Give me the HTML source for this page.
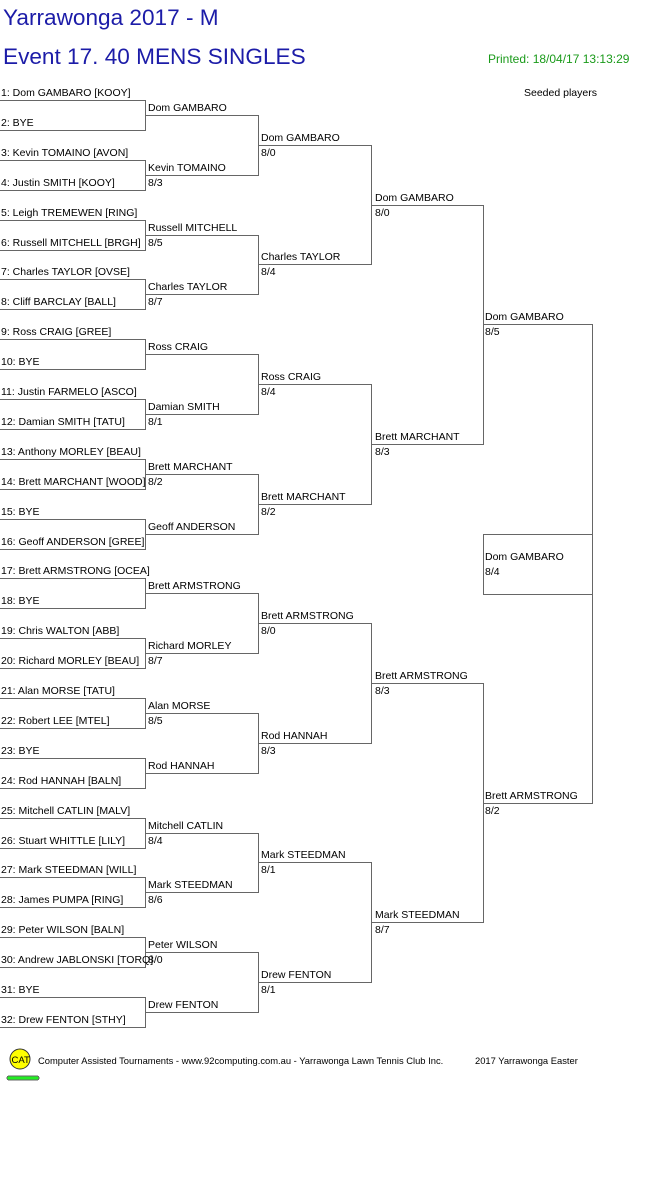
<!DOCTYPE html>
<html><head><meta charset="utf-8"><style>
html,body{margin:0;padding:0;background:#fff;width:661px;height:1196px;overflow:hidden}
svg{display:block}
text{font-family:"Liberation Sans",Arial,sans-serif;font-size:10.5px;fill:#000}
.h{font-size:22.6px;fill:#1c1ca8}
.g{font-size:12px;fill:#1a9a1a}
.f{font-size:9.4px;fill:#000}
line,rect{stroke:#666;stroke-width:1;shape-rendering:crispEdges}
</style></head><body>
<svg width="661" height="1196" xmlns="http://www.w3.org/2000/svg">
<text class="h" x="3" y="25">Yarrawonga 2017 - M</text>
<text class="h" x="3" y="64">Event 17. 40 MENS SINGLES</text>
<text class="g" x="488" y="63">Printed: 18/04/17 13:13:29</text>
<text x="524" y="96">Seeded players</text>
<g>
<line x1="0" x2="145" y1="100.5" y2="100.5"/><line x1="0" x2="145" y1="130.5" y2="130.5"/>
<line x1="0" x2="145" y1="160.5" y2="160.5"/><line x1="0" x2="145" y1="190.5" y2="190.5"/>
<line x1="0" x2="145" y1="220.5" y2="220.5"/><line x1="0" x2="145" y1="250.5" y2="250.5"/>
<line x1="0" x2="145" y1="279.5" y2="279.5"/><line x1="0" x2="145" y1="309.5" y2="309.5"/>
<line x1="0" x2="145" y1="339.5" y2="339.5"/><line x1="0" x2="145" y1="369.5" y2="369.5"/>
<line x1="0" x2="145" y1="399.5" y2="399.5"/><line x1="0" x2="145" y1="429.5" y2="429.5"/>
<line x1="0" x2="145" y1="459.5" y2="459.5"/><line x1="0" x2="145" y1="489.5" y2="489.5"/>
<line x1="0" x2="145" y1="519.5" y2="519.5"/><line x1="0" x2="145" y1="549.5" y2="549.5"/>
<line x1="0" x2="145" y1="578.5" y2="578.5"/><line x1="0" x2="145" y1="608.5" y2="608.5"/>
<line x1="0" x2="145" y1="638.5" y2="638.5"/><line x1="0" x2="145" y1="668.5" y2="668.5"/>
<line x1="0" x2="145" y1="698.5" y2="698.5"/><line x1="0" x2="145" y1="728.5" y2="728.5"/>
<line x1="0" x2="145" y1="758.5" y2="758.5"/><line x1="0" x2="145" y1="788.5" y2="788.5"/>
<line x1="0" x2="145" y1="818.5" y2="818.5"/><line x1="0" x2="145" y1="848.5" y2="848.5"/>
<line x1="0" x2="145" y1="877.5" y2="877.5"/><line x1="0" x2="145" y1="907.5" y2="907.5"/>
<line x1="0" x2="145" y1="937.5" y2="937.5"/><line x1="0" x2="145" y1="967.5" y2="967.5"/>
<line x1="0" x2="145" y1="997.5" y2="997.5"/><line x1="0" x2="145" y1="1027.5" y2="1027.5"/>
<line x1="145.5" x2="145.5" y1="100" y2="131"/><line x1="145.5" x2="145.5" y1="160" y2="191"/>
<line x1="145.5" x2="145.5" y1="220" y2="251"/><line x1="145.5" x2="145.5" y1="279" y2="310"/>
<line x1="145.5" x2="145.5" y1="339" y2="370"/><line x1="145.5" x2="145.5" y1="399" y2="430"/>
<line x1="145.5" x2="145.5" y1="459" y2="490"/><line x1="145.5" x2="145.5" y1="519" y2="550"/>
<line x1="145.5" x2="145.5" y1="578" y2="609"/><line x1="145.5" x2="145.5" y1="638" y2="669"/>
<line x1="145.5" x2="145.5" y1="698" y2="729"/><line x1="145.5" x2="145.5" y1="758" y2="789"/>
<line x1="145.5" x2="145.5" y1="818" y2="849"/><line x1="145.5" x2="145.5" y1="877" y2="908"/>
<line x1="145.5" x2="145.5" y1="937" y2="968"/><line x1="145.5" x2="145.5" y1="997" y2="1028"/>
<line x1="145" x2="258" y1="115.5" y2="115.5"/><line x1="145" x2="258" y1="175.5" y2="175.5"/>
<line x1="145" x2="258" y1="235.5" y2="235.5"/><line x1="145" x2="258" y1="294.5" y2="294.5"/>
<line x1="145" x2="258" y1="354.5" y2="354.5"/><line x1="145" x2="258" y1="414.5" y2="414.5"/>
<line x1="145" x2="258" y1="474.5" y2="474.5"/><line x1="145" x2="258" y1="534.5" y2="534.5"/>
<line x1="145" x2="258" y1="593.5" y2="593.5"/><line x1="145" x2="258" y1="653.5" y2="653.5"/>
<line x1="145" x2="258" y1="713.5" y2="713.5"/><line x1="145" x2="258" y1="773.5" y2="773.5"/>
<line x1="145" x2="258" y1="833.5" y2="833.5"/><line x1="145" x2="258" y1="892.5" y2="892.5"/>
<line x1="145" x2="258" y1="952.5" y2="952.5"/><line x1="145" x2="258" y1="1012.5" y2="1012.5"/>
<line x1="258.5" x2="258.5" y1="115" y2="176"/><line x1="258.5" x2="258.5" y1="235" y2="295"/>
<line x1="258.5" x2="258.5" y1="354" y2="415"/><line x1="258.5" x2="258.5" y1="474" y2="535"/>
<line x1="258.5" x2="258.5" y1="593" y2="654"/><line x1="258.5" x2="258.5" y1="713" y2="774"/>
<line x1="258.5" x2="258.5" y1="833" y2="893"/><line x1="258.5" x2="258.5" y1="952" y2="1013"/>
<line x1="258" x2="371" y1="145.5" y2="145.5"/><line x1="258" x2="371" y1="264.5" y2="264.5"/>
<line x1="258" x2="371" y1="384.5" y2="384.5"/><line x1="258" x2="371" y1="504.5" y2="504.5"/>
<line x1="258" x2="371" y1="623.5" y2="623.5"/><line x1="258" x2="371" y1="743.5" y2="743.5"/>
<line x1="258" x2="371" y1="862.5" y2="862.5"/><line x1="258" x2="371" y1="982.5" y2="982.5"/>
<line x1="371.5" x2="371.5" y1="145" y2="265"/><line x1="371.5" x2="371.5" y1="384" y2="505"/>
<line x1="371.5" x2="371.5" y1="623" y2="744"/><line x1="371.5" x2="371.5" y1="862" y2="983"/>
<line x1="371" x2="483" y1="205.5" y2="205.5"/><line x1="371" x2="483" y1="444.5" y2="444.5"/>
<line x1="371" x2="483" y1="683.5" y2="683.5"/><line x1="371" x2="483" y1="922.5" y2="922.5"/>
<line x1="483.5" x2="483.5" y1="205" y2="445"/><line x1="483.5" x2="483.5" y1="683" y2="923"/>
<line x1="483" x2="592" y1="324.5" y2="324.5"/><line x1="483" x2="592" y1="803.5" y2="803.5"/>
<line x1="592.5" x2="592.5" y1="324" y2="804"/>
<line x1="483" x2="592" y1="534.5" y2="534.5"/><line x1="483" x2="592" y1="594.5" y2="594.5"/>
<line x1="483.5" x2="483.5" y1="534" y2="595"/>
</g>
<g>
<text x="1" y="96">1: Dom GAMBARO [KOOY]</text>
<text x="1" y="126">2: BYE</text>
<text x="1" y="156">3: Kevin TOMAINO [AVON]</text>
<text x="1" y="186">4: Justin SMITH [KOOY]</text>
<text x="1" y="216">5: Leigh TREMEWEN [RING]</text>
<text x="1" y="246">6: Russell MITCHELL [BRGH]</text>
<text x="1" y="275">7: Charles TAYLOR [OVSE]</text>
<text x="1" y="305">8: Cliff BARCLAY [BALL]</text>
<text x="1" y="335">9: Ross CRAIG [GREE]</text>
<text x="1" y="365">10: BYE</text>
<text x="1" y="395">11: Justin FARMELO [ASCO]</text>
<text x="1" y="425">12: Damian SMITH [TATU]</text>
<text x="1" y="455">13: Anthony MORLEY [BEAU]</text>
<text x="1" y="485">14: Brett MARCHANT [WOOD]</text>
<text x="1" y="515">15: BYE</text>
<text x="1" y="545">16: Geoff ANDERSON [GREE]</text>
<text x="1" y="574">17: Brett ARMSTRONG [OCEA]</text>
<text x="1" y="604">18: BYE</text>
<text x="1" y="634">19: Chris WALTON [ABB]</text>
<text x="1" y="664">20: Richard MORLEY [BEAU]</text>
<text x="1" y="694">21: Alan MORSE [TATU]</text>
<text x="1" y="724">22: Robert LEE [MTEL]</text>
<text x="1" y="754">23: BYE</text>
<text x="1" y="784">24: Rod HANNAH [BALN]</text>
<text x="1" y="814">25: Mitchell CATLIN [MALV]</text>
<text x="1" y="844">26: Stuart WHITTLE [LILY]</text>
<text x="1" y="873">27: Mark STEEDMAN [WILL]</text>
<text x="1" y="903">28: James PUMPA [RING]</text>
<text x="1" y="933">29: Peter WILSON [BALN]</text>
<text x="1" y="963">30: Andrew JABLONSKI [TORQ]</text>
<text x="1" y="993">31: BYE</text>
<text x="1" y="1023">32: Drew FENTON [STHY]</text>

<text x="148" y="111">Dom GAMBARO</text>
<text x="148" y="171">Kevin TOMAINO</text><text x="148" y="186">8/3</text>
<text x="148" y="231">Russell MITCHELL</text><text x="148" y="246">8/5</text>
<text x="148" y="290">Charles TAYLOR</text><text x="148" y="305">8/7</text>
<text x="148" y="350">Ross CRAIG</text>
<text x="148" y="410">Damian SMITH</text><text x="148" y="425">8/1</text>
<text x="148" y="470">Brett MARCHANT</text><text x="148" y="485">8/2</text>
<text x="148" y="530">Geoff ANDERSON</text>
<text x="148" y="589">Brett ARMSTRONG</text>
<text x="148" y="649">Richard MORLEY</text><text x="148" y="664">8/7</text>
<text x="148" y="709">Alan MORSE</text><text x="148" y="724">8/5</text>
<text x="148" y="769">Rod HANNAH</text>
<text x="148" y="829">Mitchell CATLIN</text><text x="148" y="844">8/4</text>
<text x="148" y="888">Mark STEEDMAN</text><text x="148" y="903">8/6</text>
<text x="148" y="948">Peter WILSON</text><text x="148" y="963">8/0</text>
<text x="148" y="1008">Drew FENTON</text>

<text x="261" y="141">Dom GAMBARO</text><text x="261" y="156">8/0</text>
<text x="261" y="260">Charles TAYLOR</text><text x="261" y="275">8/4</text>
<text x="261" y="380">Ross CRAIG</text><text x="261" y="395">8/4</text>
<text x="261" y="500">Brett MARCHANT</text><text x="261" y="515">8/2</text>
<text x="261" y="619">Brett ARMSTRONG</text><text x="261" y="634">8/0</text>
<text x="261" y="739">Rod HANNAH</text><text x="261" y="754">8/3</text>
<text x="261" y="858">Mark STEEDMAN</text><text x="261" y="873">8/1</text>
<text x="261" y="978">Drew FENTON</text><text x="261" y="993">8/1</text>

<text x="375" y="201">Dom GAMBARO</text><text x="375" y="216">8/0</text>
<text x="375" y="440">Brett MARCHANT</text><text x="375" y="455">8/3</text>
<text x="375" y="679">Brett ARMSTRONG</text><text x="375" y="694">8/3</text>
<text x="375" y="918">Mark STEEDMAN</text><text x="375" y="933">8/7</text>

<text x="485" y="320">Dom GAMBARO</text><text x="485" y="335">8/5</text>
<text x="485" y="799">Brett ARMSTRONG</text><text x="485" y="814">8/2</text>
<text x="485" y="560">Dom GAMBARO</text><text x="485" y="575">8/4</text>
</g>
<circle cx="20" cy="1059" r="10" fill="#ffff00" stroke="#333" stroke-width="1"/>
<text x="11.5" y="1063" style="font-size:9.5px">CAT</text>
<rect x="7" y="1076" width="32" height="4" rx="2" fill="#22ee22" stroke="none"/>
<text class="f" x="38" y="1064">Computer Assisted Tournaments - www.92computing.com.au -  Yarrawonga Lawn Tennis Club Inc.</text>
<text class="f" x="475" y="1064">2017 Yarrawonga Easter</text>
</svg>
</body></html>
